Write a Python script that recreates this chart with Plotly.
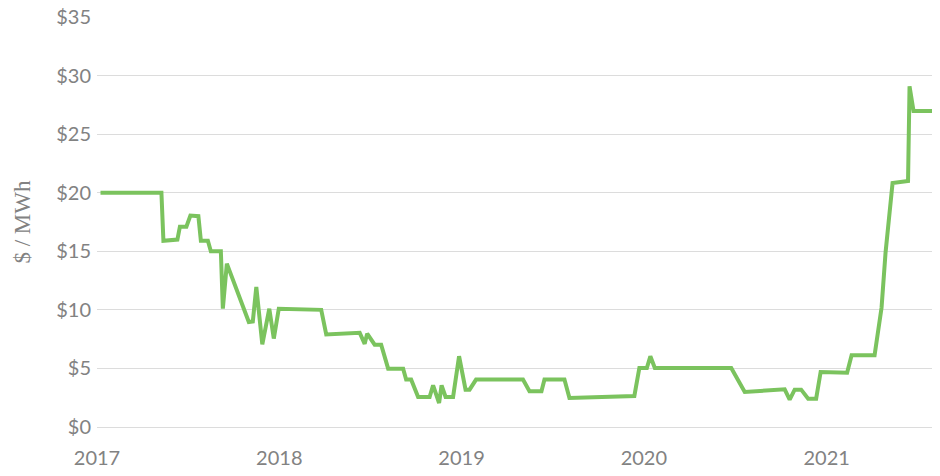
import plotly.graph_objects as go

dates = [
    "2017-01-08", "2017-05-10", "2017-05-14", "2017-06-11", "2017-06-16", "2017-06-29",
    "2017-07-07", "2017-07-23", "2017-07-28", "2017-08-11", "2017-08-17", "2017-09-06",
    "2017-09-10", "2017-09-18", "2017-11-01", "2017-11-09", "2017-11-16", "2017-11-28",
    "2017-12-12", "2017-12-21", "2017-12-31", "2018-03-26", "2018-04-05", "2018-06-11",
    "2018-06-21", "2018-06-26", "2018-07-11", "2018-07-24", "2018-08-07", "2018-09-06",
    "2018-09-12", "2018-09-22", "2018-10-06", "2018-10-29", "2018-11-05", "2018-11-17",
    "2018-11-22", "2018-11-30", "2018-12-15", "2018-12-27", "2019-01-09", "2019-01-17",
    "2019-01-30", "2019-05-04", "2019-05-17", "2019-06-10", "2019-06-16", "2019-07-26",
    "2019-08-05", "2019-12-13", "2019-12-23", "2020-01-07", "2020-01-14", "2020-01-23",
    "2020-06-24", "2020-07-21", "2020-10-09", "2020-10-19", "2020-10-29", "2020-11-11",
    "2020-11-25", "2020-12-11", "2020-12-20", "2021-02-11", "2021-02-20", "2021-04-07",
    "2021-04-21", "2021-04-29", "2021-05-13", "2021-06-13", "2021-06-16", "2021-06-24",
    "2021-08-16",
]

prices = [
    20.0, 20.0, 15.9, 16.0, 17.1, 17.1,
    18.05, 18.0, 15.9, 15.9, 15.0, 15.0,
    10.1, 13.95, 8.96, 9.0, 11.95, 7.06,
    10.1, 7.55, 10.1, 10.0, 7.9, 8.05,
    7.1, 7.97, 7.03, 7.03, 4.98, 4.98,
    4.05, 4.05, 2.56, 2.56, 3.56, 2.05,
    3.56, 2.56, 2.56, 6.04, 3.19, 3.19,
    4.05, 4.05, 3.05, 3.05, 4.05, 4.05,
    2.48, 2.65, 5.04, 5.04, 6.04, 5.04,
    5.04, 2.99, 3.22, 2.34, 3.19, 3.19,
    2.42, 2.42, 4.70, 4.64, 6.12, 6.12,
    10.2, 14.9, 20.83, 21.0, 29.08, 26.98,
    26.98,
]

y_ticks = [0, 5, 10, 15, 20, 25, 30, 35]
y_tick_labels = ["$0", "$5", "$10", "$15", "$20", "$25", "$30", "$35"]
x_ticks = ["2017-01-01", "2018-01-01", "2019-01-01", "2020-01-01", "2021-01-01"]
x_tick_labels = ["2017", "2018", "2019", "2020", "2021"]

fig = go.Figure()
fig.add_trace(go.Scatter(
    x=dates, y=prices, mode="lines",
    line=dict(color="#7bc35e", width=4),
    hoverinfo="skip", showlegend=False,
))

tick_font = dict(family="Lato", size=20, color="#828282")

# The page body keeps its default 8px margin, so the figure is sized to fit
# the 940x476 window without scrollbars and margins are offset accordingly.
fig.update_layout(
    width=932, height=460,
    margin=dict(l=89, r=0, t=9, b=41),
    paper_bgcolor="white", plot_bgcolor="white",
    xaxis=dict(
        range=["2017-01-01", "2021-08-16"],
        tickmode="array", tickvals=x_ticks, ticktext=x_tick_labels,
        showgrid=False, zeroline=False, showline=False,
        tickfont=tick_font, ticks="", ticklabelstandoff=17,
        automargin=False, ticklabeloverflow="allow",
    ),
    yaxis=dict(
        range=[0, 35],
        tickmode="array", tickvals=y_ticks, ticktext=y_tick_labels,
        showgrid=True, gridcolor="#dcdcdc", gridwidth=1,
        zeroline=True, zerolinecolor="#dcdcdc", zerolinewidth=1,
        showline=False, ticks="", ticklabelstandoff=5,
        tickfont=tick_font, automargin=False, ticklabeloverflow="allow",
        title=dict(text="$ / MWh", font=dict(family="Liberation Serif", size=23, color="#828282"),
                   standoff=19),
    ),
)

fig.write_html("out.html")
